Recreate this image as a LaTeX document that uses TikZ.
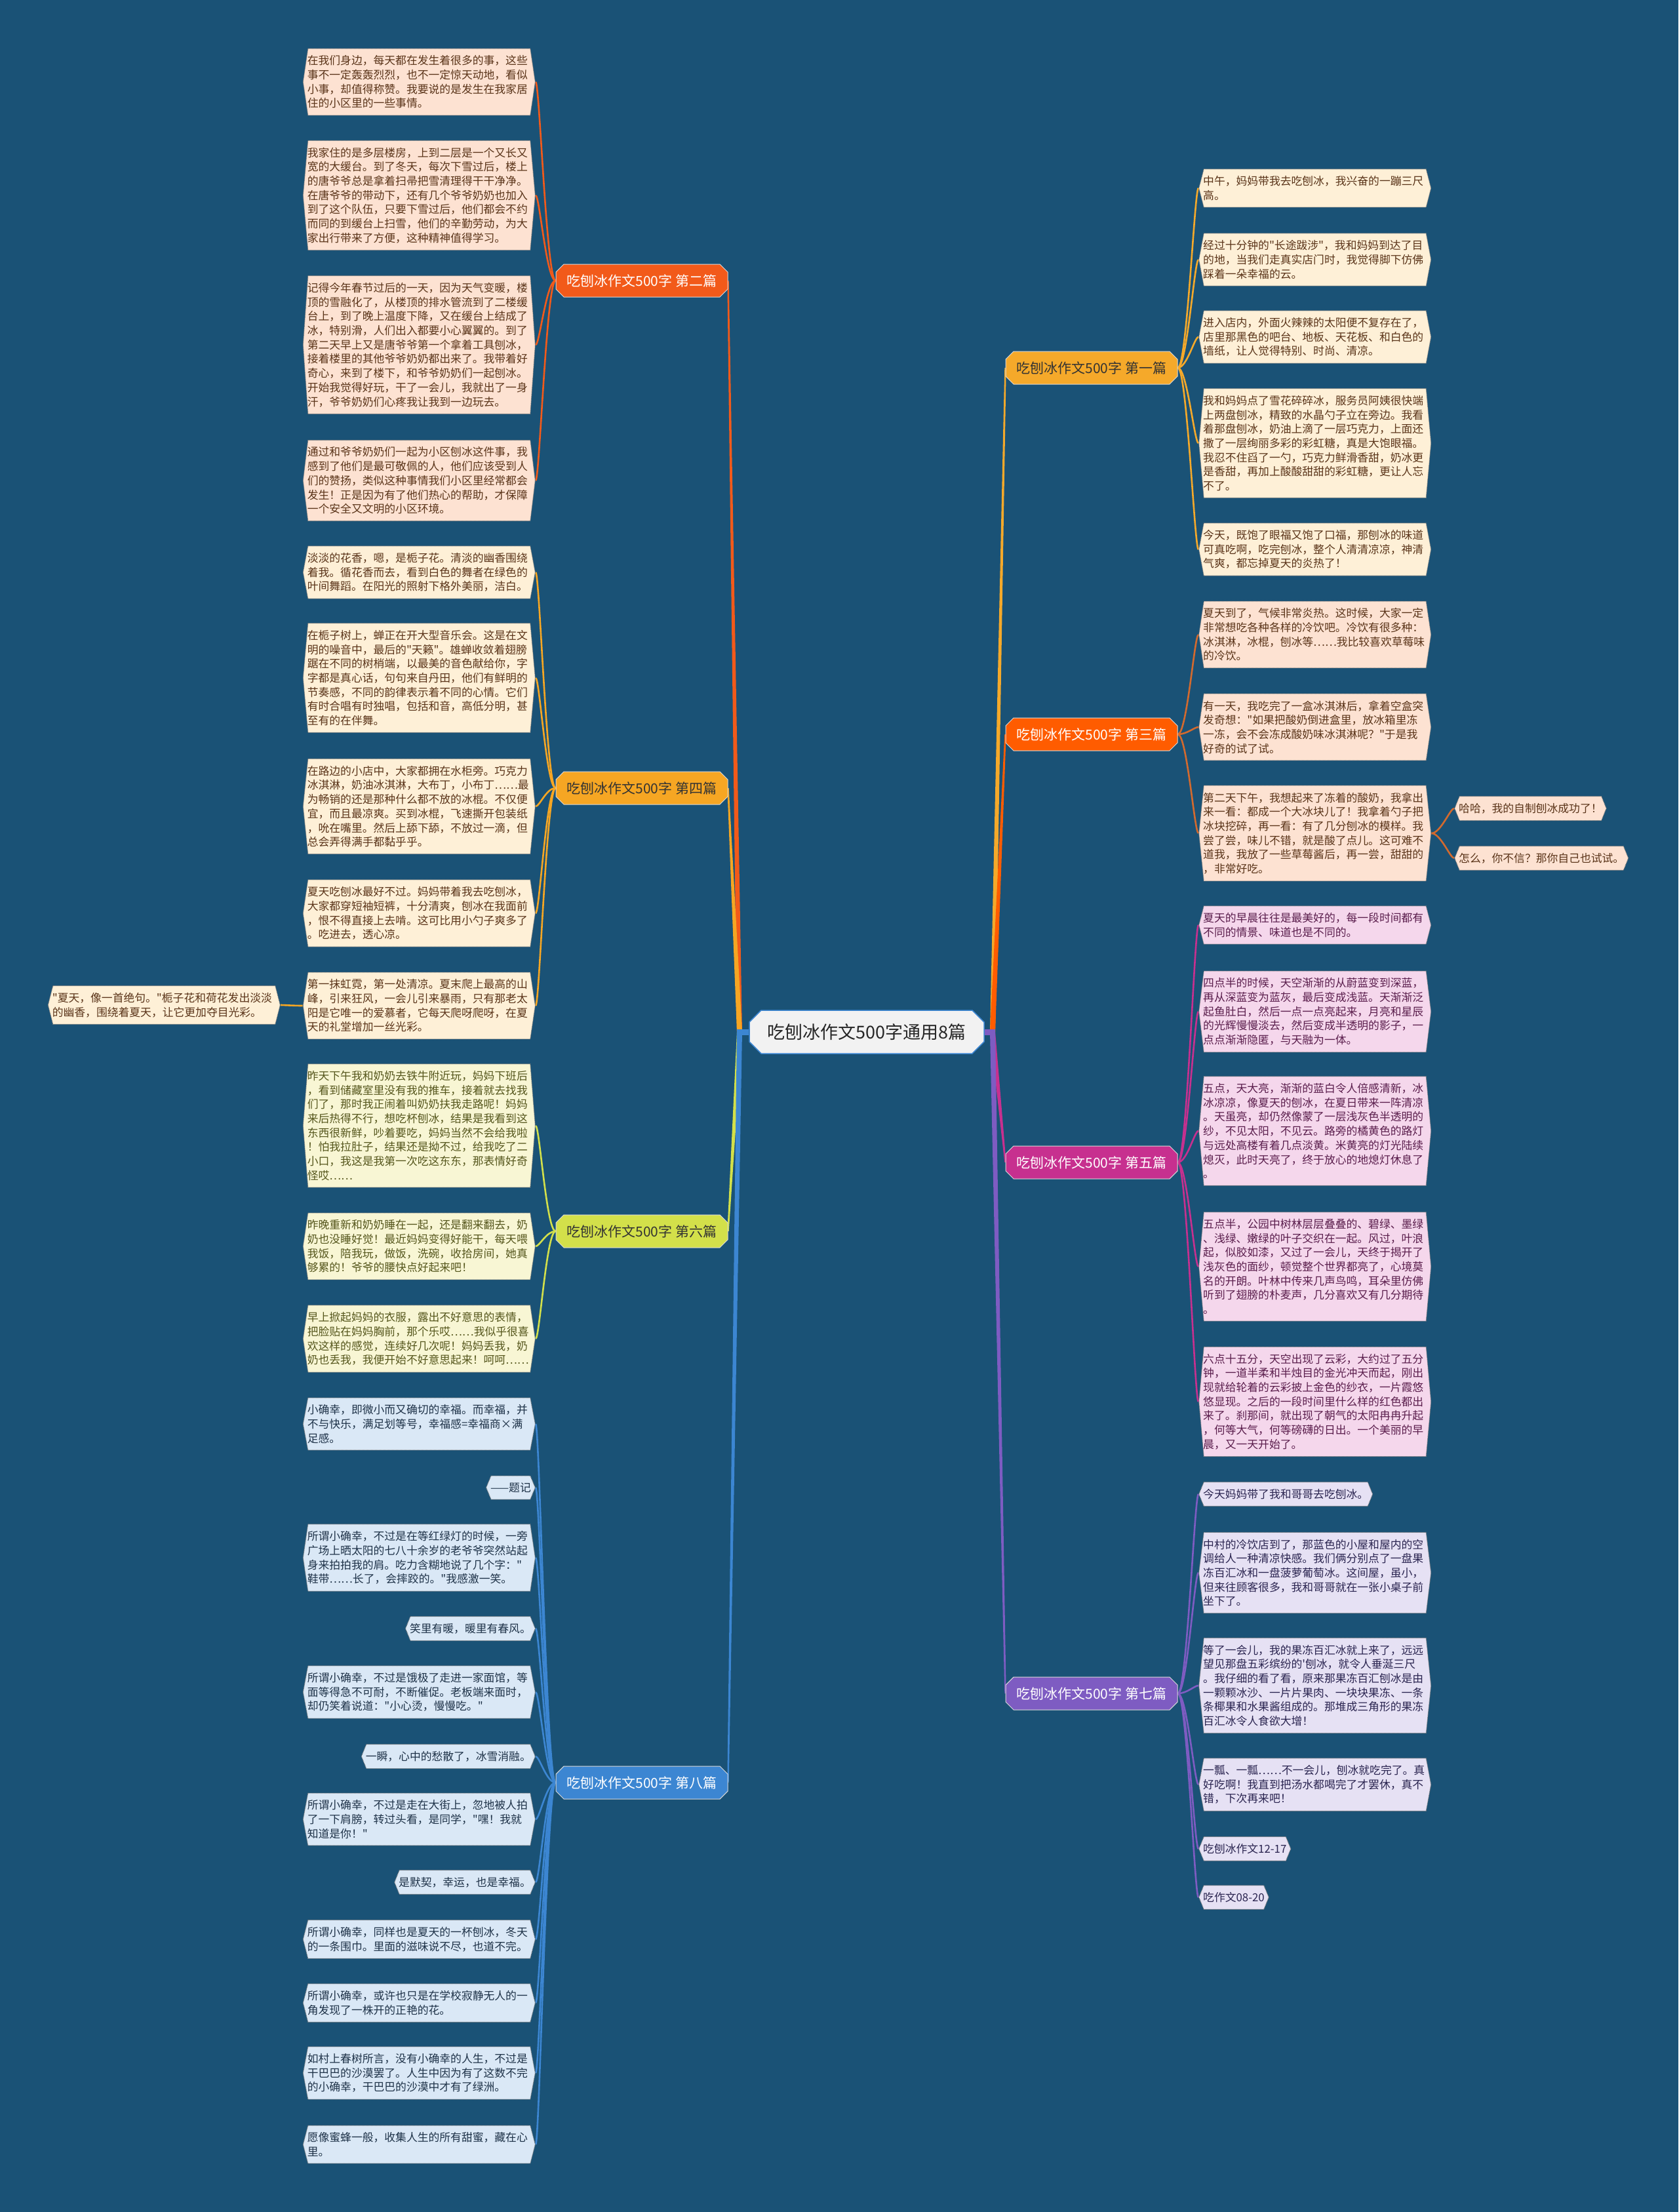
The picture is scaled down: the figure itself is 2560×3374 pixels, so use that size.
\documentclass[tikz,border=0pt]{standalone}
\usepackage{fontspec}
\setmainfont{Noto Sans CJK SC}[Ligatures=TeXOff]
\usepackage{xcolor}
\usepackage{tikz}
\usetikzlibrary{backgrounds,shapes.misc}

\definecolor{bgblue}{HTML}{1A5276}
\definecolor{cTwo}{HTML}{F25A1A}
\definecolor{cFour}{HTML}{F6A623}
\definecolor{cSix}{HTML}{D3E04A}
\definecolor{cEight}{HTML}{3C86D2}
\definecolor{cOne}{HTML}{F5A92A}
\definecolor{cThree}{HTML}{FF5C00}
\definecolor{cThreeLine}{HTML}{D36A2E}
\definecolor{cFive}{HTML}{C7308F}
\definecolor{cSeven}{HTML}{7E5CC2}
\definecolor{fPeach}{HTML}{FDE2D2}
\definecolor{fCream}{HTML}{FEF0D7}
\definecolor{fLime}{HTML}{F8F6D4}
\definecolor{fSky}{HTML}{DAE8F6}
\definecolor{fPink}{HTML}{F5D7EC}
\definecolor{fLilac}{HTML}{E6E1F4}
\definecolor{tBrown}{HTML}{5A3419}
\definecolor{tOlive}{HTML}{55561C}
\definecolor{tNavy}{HTML}{1E3248}
\definecolor{tPlum}{HTML}{5A1D4C}
\definecolor{tInk}{HTML}{2A2450}
\definecolor{tDark}{HTML}{333333}

\begin{document}
\begin{tikzpicture}[x=1pt,y=-1pt]
		\tikzstyle{root_style} = [chamfered rectangle,chamfered rectangle xsep=9pt,chamfered rectangle ysep=9pt,fill=black!5,draw=cEight,line width=1.5pt,minimum width=358pt,minimum height=66pt,inner sep=2pt,font=\fontsize{27pt}{30pt}\selectfont,text=black!85]
		\tikzstyle{branch_style} = [chamfered rectangle,chamfered rectangle xsep=6pt,chamfered rectangle ysep=6pt,fill=#1,draw=white!85!black,line width=1pt,minimum width=262pt,minimum height=50pt,inner sep=2pt,font=\fontsize{21pt}{24pt}\selectfont,text=white]
		\tikzstyle{leaf_style} = [font=\fontsize{16.8pt}{21.7pt}\selectfont,align=left,inner xsep=7pt,inner ysep=11pt,
			path picture={\fill[#1,draw=black!55,densely dotted,line width=1pt]
				([xshift=8pt,yshift=-0.5pt]path picture bounding box.north west) -- ([xshift=-8pt,yshift=-0.5pt]path picture bounding box.north east)
				-- ([xshift=-0.5pt]path picture bounding box.east) -- ([xshift=-8pt,yshift=0.5pt]path picture bounding box.south east)
				-- ([xshift=8pt,yshift=0.5pt]path picture bounding box.south west) -- ([xshift=0.5pt]path picture bounding box.west) -- cycle;}]
		\tikzstyle{wide} = [text width=341pt]
		\tikzstyle{leaf_two} = [leaf_style=fPeach,text=tBrown]
		\tikzstyle{leaf_four} = [leaf_style=fCream,text=tBrown]
		\tikzstyle{leaf_six} = [leaf_style=fLime,text=tOlive]
		\tikzstyle{leaf_eight} = [leaf_style=fSky,text=tNavy]
		\tikzstyle{leaf_five} = [leaf_style=fPink,text=tPlum]
		\tikzstyle{leaf_seven} = [leaf_style=fLilac,text=tInk]
		\tikzstyle{edge_style} = [draw=#1,line width=2.6pt]
		\tikzstyle{toL} = [to path={.. controls +(-14,0) and +(6,0) .. (\tikztotarget)}]
		\tikzstyle{toR} = [to path={.. controls +(14,0) and +(-6,0) .. (\tikztotarget)}]

		\begin{scope}[on background layer]
			\fill[bgblue] (0,0) rectangle (2560,3374);
		\end{scope}

		% centre and branches
		\node[root_style] (root) at (1322,1574) {吃刨冰作文500字通用8篇};
		\coordinate (jL) at (1128,1574);
		\coordinate (jR) at (1514,1574);
		\node[branch_style=cTwo] (b2) at (979,428) {吃刨冰作文500字 第二篇};
		\node[branch_style=cFour,text=tDark] (b4) at (979,1202) {吃刨冰作文500字 第四篇};
		\node[branch_style=cSix,text=tDark] (b6) at (979,1878) {吃刨冰作文500字 第六篇};
		\node[branch_style=cEight] (b8) at (979,2719) {吃刨冰作文500字 第八篇};
		\node[branch_style=cOne,text=tDark] (b1) at (1665,561) {吃刨冰作文500字 第一篇};
		\node[branch_style=cThree] (b3) at (1665,1120) {吃刨冰作文500字 第三篇};
		\node[branch_style=cFive] (b5) at (1665,1773) {吃刨冰作文500字 第五篇};
		\node[branch_style=cSeven] (b7) at (1665,2583) {吃刨冰作文500字 第七篇};

		% left: 第二篇
		\node[leaf_two,wide,anchor=east] (l2a) at (817,125) {在我们身边，每天都在发生着很多的事，这些\\事不一定轰轰烈烈，也不一定惊天动地，看似\\小事，却值得称赞。我要说的是发生在我家居\\住的小区里的一些事情。};
		\node[leaf_two,wide,anchor=east] (l2b) at (817,298) {我家住的是多层楼房，上到二层是一个又长又\\宽的大缓台。到了冬天，每次下雪过后，楼上\\的唐爷爷总是拿着扫帚把雪清理得干干净净。\\在唐爷爷的带动下，还有几个爷爷奶奶也加入\\到了这个队伍，只要下雪过后，他们都会不约\\而同的到缓台上扫雪，他们的辛勤劳动，为大\\家出行带来了方便，这种精神值得学习。};
		\node[leaf_two,wide,anchor=east] (l2c) at (817,526) {记得今年春节过后的一天，因为天气变暖，楼\\顶的雪融化了，从楼顶的排水管流到了二楼缓\\台上，到了晚上温度下降，又在缓台上结成了\\冰，特别滑，人们出入都要小心翼翼的。到了\\第二天早上又是唐爷爷第一个拿着工具刨冰，\\接着楼里的其他爷爷奶奶都出来了。我带着好\\奇心，来到了楼下，和爷爷奶奶们一起刨冰。\\开始我觉得好玩，干了一会儿，我就出了一身\\汗，爷爷奶奶们心疼我让我到一边玩去。};
		\node[leaf_two,wide,anchor=east] (l2d) at (817,733) {通过和爷爷奶奶们一起为小区刨冰这件事，我\\感到了他们是最可敬佩的人，他们应该受到人\\们的赞扬，类似这种事情我们小区里经常都会\\发生！正是因为有了他们热心的帮助，才保障\\一个安全又文明的小区环境。};

		% left: 第四篇
		\node[leaf_four,wide,anchor=east] (l4a) at (817,873) {淡淡的花香，嗯，是栀子花。清淡的幽香围绕\\着我。循花香而去，看到白色的舞者在绿色的\\叶间舞蹈。在阳光的照射下格外美丽，洁白。};
		\node[leaf_four,wide,anchor=east] (l4b) at (817,1034) {在栀子树上，蝉正在开大型音乐会。这是在文\\明的噪音中，最后的"天籁"。雄蝉收敛着翅膀\\踞在不同的树梢端，以最美的音色献给你，字\\字都是真心话，句句来自丹田，他们有鲜明的\\节奏感，不同的韵律表示着不同的心情。它们\\有时合唱有时独唱，包括和音，高低分明，甚\\至有的在伴舞。};
		\node[leaf_four,wide,anchor=east] (l4c) at (817,1230) {在路边的小店中，大家都拥在水柜旁。巧克力\\冰淇淋，奶油冰淇淋，大布丁，小布丁……最\\为畅销的还是那种什么都不放的冰棍。不仅便\\宜，而且最凉爽。买到冰棍，飞速撕开包装纸\\，吮在嘴里。然后上舔下舔，不放过一滴，但\\总会弄得满手都黏乎乎。};
		\node[leaf_four,wide,anchor=east] (l4d) at (817,1393) {夏天吃刨冰最好不过。妈妈带着我去吃刨冰，\\大家都穿短袖短裤，十分清爽，刨冰在我面前\\，恨不得直接上去啃。这可比用小勺子爽多了\\。吃进去，透心凉。};
		\node[leaf_four,wide,anchor=east] (l4e) at (817,1534) {第一抹虹霓，第一处清凉。夏末爬上最高的山\\峰，引来狂风，一会儿引来暴雨，只有那老太\\阳是它唯一的爱慕者，它每天爬呀爬呀，在夏\\天的礼堂增加一丝光彩。};
		\node[leaf_four,wide,anchor=east] (l4f) at (428,1533) {"夏天，像一首绝句。"栀子花和荷花发出淡淡\\的幽香，围绕着夏天，让它更加夺目光彩。};

		% left: 第六篇
		\node[leaf_six,wide,anchor=east] (l6a) at (817,1717) {昨天下午我和奶奶去铁牛附近玩，妈妈下班后\\，看到储藏室里没有我的推车，接着就去找我\\们了，那时我正闹着叫奶奶扶我走路呢！妈妈\\来后热得不行，想吃杯刨冰，结果是我看到这\\东西很新鲜，吵着要吃，妈妈当然不会给我啦\\！怕我拉肚子，结果还是拗不过，给我吃了二\\小口，我这是我第一次吃这东东，那表情好奇\\怪哎……};
		\node[leaf_six,wide,anchor=east] (l6b) at (817,1901) {昨晚重新和奶奶睡在一起，还是翻来翻去，奶\\奶也没睡好觉！最近妈妈变得好能干，每天喂\\我饭，陪我玩，做饭，洗碗，收拾房间，她真\\够累的！爷爷的腰快点好起来吧！};
		\node[leaf_six,wide,anchor=east] (l6c) at (817,2042) {早上掀起妈妈的衣服，露出不好意思的表情，\\把脸贴在妈妈胸前，那个乐哎……我似乎很喜\\欢这样的感觉，连续好几次呢！妈妈丢我，奶\\奶也丢我，我便开始不好意思起来！呵呵……};

		% left: 第八篇
		\node[leaf_eight,wide,anchor=east] (l8a) at (817,2172) {小确幸，即微小而又确切的幸福。而幸福，并\\不与快乐，满足划等号，幸福感=幸福商×满\\足感。};
		\node[leaf_eight,anchor=east] (l8b) at (817,2269) {——题记};
		\node[leaf_eight,wide,anchor=east] (l8c) at (817,2376) {所谓小确幸，不过是在等红绿灯的时候，一旁\\广场上晒太阳的七八十余岁的老爷爷突然站起\\身来拍拍我的肩。吃力含糊地说了几个字："\\鞋带……长了，会摔跤的。"我感激一笑。};
		\node[leaf_eight,anchor=east] (l8d) at (817,2484) {笑里有暖，暖里有春风。};
		\node[leaf_eight,wide,anchor=east] (l8e) at (817,2581) {所谓小确幸，不过是饿极了走进一家面馆，等\\面等得急不可耐，不断催促。老板端来面时，\\却仍笑着说道："小心烫，慢慢吃。"};
		\node[leaf_eight,anchor=east] (l8f) at (817,2679) {一瞬，心中的愁散了，冰雪消融。};
		\node[leaf_eight,wide,anchor=east] (l8g) at (817,2775) {所谓小确幸，不过是走在大街上，忽地被人拍\\了一下肩膀，转过头看，是同学，"嘿！我就\\知道是你！"};
		\node[leaf_eight,anchor=east] (l8h) at (817,2871) {是默契，幸运，也是幸福。};
		\node[leaf_eight,wide,anchor=east] (l8i) at (817,2958) {所谓小确幸，同样也是夏天的一杯刨冰，冬天\\的一条围巾。里面的滋味说不尽，也道不完。};
		\node[leaf_eight,wide,anchor=east] (l8j) at (817,3055) {所谓小确幸，或许也只是在学校寂静无人的一\\角发现了一株开的正艳的花。};
		\node[leaf_eight,wide,anchor=east] (l8k) at (817,3162) {如村上春树所言，没有小确幸的人生，不过是\\干巴巴的沙漠罢了。人生中因为有了这数不完\\的小确幸，干巴巴的沙漠中才有了绿洲。};
		\node[leaf_eight,wide,anchor=east] (l8l) at (817,3271) {愿像蜜蜂一般，收集人生的所有甜蜜，藏在心\\里。};

		% right: 第一篇
		\node[leaf_four,wide,anchor=west] (r1a) at (1828,287) {中午，妈妈带我去吃刨冰，我兴奋的一蹦三尺\\高。};
		\node[leaf_four,wide,anchor=west] (r1b) at (1828,396) {经过十分钟的"长途跋涉"，我和妈妈到达了目\\的地，当我们走真实店门时，我觉得脚下仿佛\\踩着一朵幸福的云。};
		\node[leaf_four,wide,anchor=west] (r1c) at (1828,514) {进入店内，外面火辣辣的太阳便不复存在了，\\店里那黑色的吧台、地板、天花板、和白色的\\墙纸，让人觉得特别、时尚、清凉。};
		\node[leaf_four,wide,anchor=west] (r1d) at (1828,676) {我和妈妈点了雪花碎碎冰，服务员阿姨很快端\\上两盘刨冰，精致的水晶勺子立在旁边。我看\\着那盘刨冰，奶油上滴了一层巧克力，上面还\\撒了一层绚丽多彩的彩虹糖，真是大饱眼福。\\我忍不住舀了一勺，巧克力鲜滑香甜，奶冰更\\是香甜，再加上酸酸甜甜的彩虹糖，更让人忘\\不了。};
		\node[leaf_four,wide,anchor=west] (r1e) at (1828,838) {今天，既饱了眼福又饱了口福，那刨冰的味道\\可真吃啊，吃完刨冰，整个人清清凉凉，神清\\气爽，都忘掉夏天的炎热了！};

		% right: 第三篇
		\node[leaf_two,wide,anchor=west] (r3a) at (1828,968) {夏天到了，气候非常炎热。这时候，大家一定\\非常想吃各种各样的冷饮吧。冷饮有很多种：\\冰淇淋，冰棍，刨冰等……我比较喜欢草莓味\\的冷饮。};
		\node[leaf_two,wide,anchor=west] (r3b) at (1828,1109) {有一天，我吃完了一盒冰淇淋后，拿着空盒突\\发奇想："如果把酸奶倒进盒里，放冰箱里冻\\一冻，会不会冻成酸奶味冰淇淋呢？"于是我\\好奇的试了试。};
		\node[leaf_two,wide,anchor=west] (r3c) at (1828,1271) {第二天下午，我想起来了冻着的酸奶，我拿出\\来一看：都成一个大冰块儿了！我拿着勺子把\\冰块挖碎，再一看：有了几分刨冰的模样。我\\尝了尝，味儿不错，就是酸了点儿。这可难不\\道我，我放了一些草莓酱后，再一尝，甜甜的\\，非常好吃。};
		\node[leaf_two,anchor=west] (r3d) at (2218,1233) {哈哈，我的自制刨冰成功了！};
		\node[leaf_two,anchor=west] (r3e) at (2218,1309) {怎么，你不信？那你自己也试试。};

		% right: 第五篇
		\node[leaf_five,wide,anchor=west] (r5a) at (1828,1411) {夏天的早晨往往是最美好的，每一段时间都有\\不同的情景、味道也是不同的。};
		\node[leaf_five,wide,anchor=west] (r5b) at (1828,1543) {四点半的时候，天空渐渐的从蔚蓝变到深蓝，\\再从深蓝变为蓝灰，最后变成浅蓝。天渐渐泛\\起鱼肚白，然后一点一点亮起来，月亮和星辰\\的光辉慢慢淡去，然后变成半透明的影子，一\\点点渐渐隐匿，与天融为一体。};
		\node[leaf_five,wide,anchor=west] (r5c) at (1828,1725) {五点，天大亮，渐渐的蓝白令人倍感清新，冰\\冰凉凉，像夏天的刨冰，在夏日带来一阵清凉\\。天虽亮，却仍然像蒙了一层浅灰色半透明的\\纱，不见太阳，不见云。路旁的橘黄色的路灯\\与远处高楼有着几点淡黄。米黄亮的灯光陆续\\熄灭，此时天亮了，终于放心的地熄灯休息了\\。};
		\node[leaf_five,wide,anchor=west] (r5d) at (1828,1932) {五点半，公园中树林层层叠叠的、碧绿、墨绿\\、浅绿、嫩绿的叶子交织在一起。风过，叶浪\\起，似胶如漆，又过了一会儿，天终于揭开了\\浅灰色的面纱，顿觉整个世界都亮了，心境莫\\名的开朗。叶林中传来几声鸟鸣，耳朵里仿佛\\听到了翅膀的朴麦声，几分喜欢又有几分期待\\。};
		\node[leaf_five,wide,anchor=west] (r5e) at (1828,2138) {六点十五分，天空出现了云彩，大约过了五分\\钟，一道半柔和半烛目的金光冲天而起，刚出\\现就给轮着的云彩披上金色的纱衣，一片霞悠\\悠显现。之后的一段时间里什么样的红色都出\\来了。刹那间，就出现了朝气的太阳冉冉升起\\，何等大气，何等磅礴的日出。一个美丽的早\\晨，又一天开始了。};

		% right: 第七篇
		\node[leaf_seven,anchor=west] (r7a) at (1828,2279) {今天妈妈带了我和哥哥去吃刨冰。};
		\node[leaf_seven,wide,anchor=west] (r7b) at (1828,2399) {中村的冷饮店到了，那蓝色的小屋和屋内的空\\调给人一种清凉快感。我们俩分别点了一盘果\\冻百汇冰和一盘菠萝葡萄冰。这间屋，虽小，\\但来往顾客很多，我和哥哥就在一张小桌子前\\坐下了。};
		\node[leaf_seven,wide,anchor=west] (r7c) at (1828,2571) {等了一会儿，我的果冻百汇冰就上来了，远远\\望见那盘五彩缤纷的'刨冰，就令人垂涎三尺\\。我仔细的看了看，原来那果冻百汇刨冰是由\\一颗颗冰沙、一片片果肉、一块块果冻、一条\\条椰果和水果酱组成的。那堆成三角形的果冻\\百汇冰令人食欲大增！};
		\node[leaf_seven,wide,anchor=west] (r7d) at (1828,2722) {一瓢、一瓢……不一会儿，刨冰就吃完了。真\\好吃啊！我直到把汤水都喝完了才罢休，真不\\错，下次再来吧！};
		\node[leaf_seven,anchor=west] (r7e) at (1828,2820) {吃刨冰作文12-17};
		\node[leaf_seven,anchor=west] (r7f) at (1828,2894) {吃作文08-20};

		\begin{scope}[on background layer]
		% trunks, thick at the root and thin at the branch
		\fill[cTwo] ([xshift=-4pt]jL) -- ([xshift=-1.2pt]b2.east) -- ([xshift=1.2pt]b2.east) -- ([xshift=4pt]jL) -- cycle;
		\fill[cFour] ([xshift=-4pt]jL) -- ([xshift=-1.2pt]b4.east) -- ([xshift=1.2pt]b4.east) -- ([xshift=4pt]jL) -- cycle;
		\fill[cSix] ([xshift=-4pt]jL) -- ([xshift=-1.2pt]b6.east) -- ([xshift=1.2pt]b6.east) -- ([xshift=4pt]jL) -- cycle;
		\fill[cEight] ([xshift=-4pt]jL) -- ([xshift=-1.2pt]b8.east) -- ([xshift=1.2pt]b8.east) -- ([xshift=4pt]jL) -- cycle;
		\fill[cOne] ([xshift=-4pt]jR) -- ([xshift=-1.2pt]b1.west) -- ([xshift=1.2pt]b1.west) -- ([xshift=4pt]jR) -- cycle;
		\fill[cThree] ([xshift=-4pt]jR) -- ([xshift=-1.2pt]b3.west) -- ([xshift=1.2pt]b3.west) -- ([xshift=4pt]jR) -- cycle;
		\fill[cFive] ([xshift=-4pt]jR) -- ([xshift=-1.2pt]b5.west) -- ([xshift=1.2pt]b5.west) -- ([xshift=4pt]jR) -- cycle;
		\fill[cSeven] ([xshift=-4pt]jR) -- ([xshift=-1.2pt]b7.west) -- ([xshift=1.2pt]b7.west) -- ([xshift=4pt]jR) -- cycle;
		\draw[cEight,line width=9pt] (root.west) -- ([xshift=-4pt]jL);
		\draw[cSeven,line width=9pt] (root.east) -- ([xshift=4pt]jR);

		% leaves
		\draw[edge_style=cTwo] (b2.west) edge[toL] (l2a.east) edge[toL] (l2b.east) edge[toL] (l2c.east) edge[toL] (l2d.east);
		\draw[edge_style=cFour] (b4.west) edge[toL] (l4a.east) edge[toL] (l4b.east) edge[toL] (l4c.east) edge[toL] (l4d.east) edge[toL] (l4e.east);
		\draw[edge_style=cFour] (l4e.west) edge[toL] (l4f.east);
		\draw[edge_style=cSix] (b6.west) edge[toL] (l6a.east) edge[toL] (l6b.east) edge[toL] (l6c.east);
		\draw[edge_style=cEight] (b8.west) edge[toL] (l8a.east) edge[toL] (l8b.east) edge[toL] (l8c.east) edge[toL] (l8d.east) edge[toL] (l8e.east) edge[toL] (l8f.east)
			edge[toL] (l8g.east) edge[toL] (l8h.east) edge[toL] (l8i.east) edge[toL] (l8j.east) edge[toL] (l8k.east) edge[toL] (l8l.east);
		\draw[edge_style=cOne] (b1.east) edge[toR] (r1a.west) edge[toR] (r1b.west) edge[toR] (r1c.west) edge[toR] (r1d.west) edge[toR] (r1e.west);
		\draw[edge_style=cThreeLine] (b3.east) edge[toR] (r3a.west) edge[toR] (r3b.west) edge[toR] (r3c.west);
		\draw[edge_style=cThreeLine] (r3c.east) edge[toR] (r3d.west) edge[toR] (r3e.west);
		\draw[edge_style=cFive] (b5.east) edge[toR] (r5a.west) edge[toR] (r5b.west) edge[toR] (r5c.west) edge[toR] (r5d.west) edge[toR] (r5e.west);
		\draw[edge_style=cSeven] (b7.east) edge[toR] (r7a.west) edge[toR] (r7b.west) edge[toR] (r7c.west) edge[toR] (r7d.west) edge[toR] (r7e.west) edge[toR] (r7f.west);
		\end{scope}
\end{tikzpicture}
\end{document}
